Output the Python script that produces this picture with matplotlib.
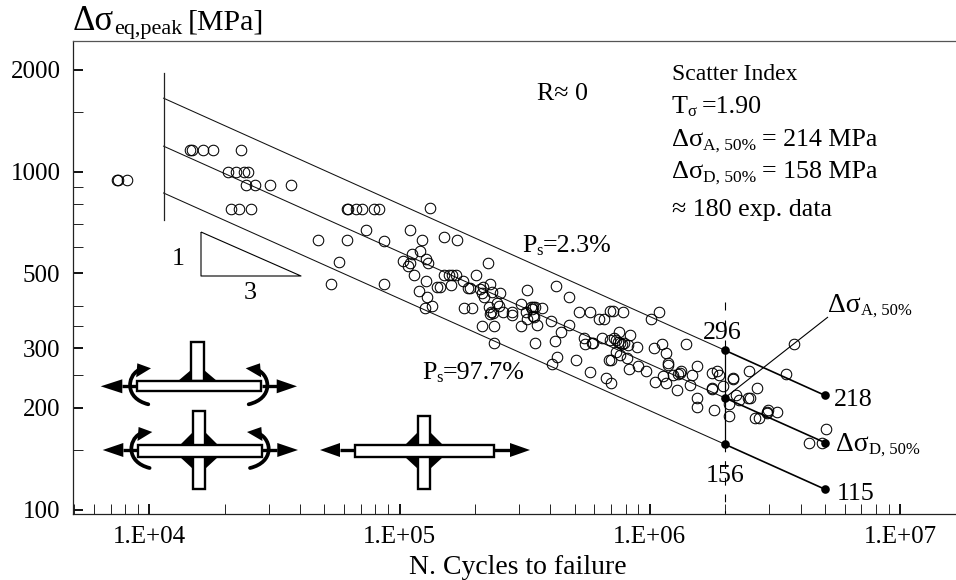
import matplotlib
matplotlib.use("Agg")
import matplotlib.pyplot as plt
from matplotlib.patches import Polygon, Rectangle, PathPatch
from matplotlib.path import Path
from matplotlib.transforms import Affine2D
from matplotlib.ticker import FixedLocator, FixedFormatter, NullFormatter

plt.rcParams['font.family'] = ['Liberation Serif', 'DejaVu Serif']

W, H = 956, 580

log10_cycles = [
 3.871,3.873,3.912,4.163,4.171,4.215,4.254,4.368,4.313,4.348,4.378,4.393,4.386,4.422,4.481,4.565,
 4.326,4.358,4.406,4.789,4.795,4.826,4.849,4.898,4.916,5.121,4.673,4.791,4.939,5.091,5.179,5.229,
 4.865,5.041,4.757,4.726,4.939,5.081,5.051,5.015,5.041,5.032,5.105,5.112,5.058,5.104,5.077,5.111,
 5.101,5.131,5.352,5.177,5.197,5.208,5.225,5.304,5.204,5.148,5.161,5.252,5.361,5.274,5.281,5.321,
 5.333,5.370,5.401,5.328,5.337,5.388,5.397,5.357,5.257,5.288,5.365,5.372,5.361,5.412,5.449,5.449,
 5.484,5.509,5.524,5.534,5.528,5.542,5.570,5.504,5.534,5.538,5.508,5.550,5.484,5.330,5.376,5.376,
 5.542,5.604,5.608,5.626,5.676,5.716,5.759,5.798,5.818,5.840,5.677,5.646,5.622,5.735,5.741,5.767,
 5.774,5.809,5.840,5.628,5.706,5.759,5.837,5.825,5.854,5.891,6.035,6.004,5.878,5.920,5.857,5.863,
 5.871,5.880,5.887,5.896,5.914,5.947,5.863,5.880,5.910,5.845,6.015,6.048,6.064,6.143,6.072,6.072,
 6.187,5.918,5.952,5.986,6.053,6.020,6.064,6.093,6.113,6.124,6.120,6.168,6.161,6.108,5.843,6.187,
 6.187,6.247,6.267,6.277,6.333,6.333,6.395,6.247,6.247,6.291,6.428,6.344,6.356,6.393,6.399,6.316,
 6.256,6.316,6.542,6.577,6.473,6.469,6.469,6.509,6.420,6.437,6.703,6.634,6.687,
]
log10_stress = [
 2.975,2.975,2.975,3.064,3.064,3.064,3.064,3.064,3.000,3.000,3.000,3.000,2.961,2.961,2.961,2.961,
 2.889,2.889,2.889,2.889,2.889,2.889,2.889,2.889,2.889,2.892,2.798,2.798,2.795,2.798,2.806,2.798,
 2.827,2.827,2.734,2.669,2.669,2.765,2.756,2.735,2.731,2.720,2.742,2.730,2.693,2.677,2.647,2.630,
 2.598,2.604,2.730,2.693,2.693,2.695,2.693,2.693,2.665,2.658,2.659,2.677,2.669,2.655,2.656,2.653,
 2.660,2.643,2.640,2.640,2.628,2.611,2.604,2.601,2.597,2.597,2.586,2.581,2.579,2.586,2.586,2.576,
 2.608,2.650,2.601,2.601,2.593,2.599,2.597,2.586,2.573,2.571,2.563,2.546,2.543,2.543,2.543,2.493,
 2.493,2.557,2.430,2.662,2.629,2.586,2.586,2.564,2.564,2.589,2.547,2.525,2.500,2.508,2.490,2.492,
 2.492,2.507,2.502,2.452,2.443,2.407,2.443,2.390,2.589,2.586,2.586,2.564,2.525,2.518,2.507,2.502,
 2.497,2.494,2.490,2.492,2.487,2.481,2.467,2.458,2.450,2.443,2.478,2.489,2.464,2.489,2.433,2.428,
 2.424,2.416,2.424,2.409,2.395,2.378,2.374,2.399,2.401,2.409,2.404,2.399,2.370,2.353,2.374,2.330,
 2.305,2.404,2.410,2.399,2.391,2.388,2.409,2.360,2.358,2.367,2.360,2.338,2.324,2.330,2.330,2.313,
 2.294,2.277,2.401,2.489,2.295,2.288,2.285,2.288,2.272,2.272,2.240,2.196,2.196,
]

line_start_cycles = 11400
knee_cycles = 2e6
end_cycles = 5e6
start_stress = [1650, 1190, 865]
knee_stress = [296, 214, 156]
end_stress = [218, 158, 115]
knee_labels = ['296', '156']

y_major = [100, 200, 300, 500, 1000, 2000]
y_minor = [150, 250, 350, 400, 600, 700, 800, 900, 1500]
x_major = [1e4, 1e5, 1e6, 1e7]
x_labels = ['1.E+04', '1.E+05', '1.E+06', '1.E+07']
x_minor = [m * 10**e for e in (3, 4, 5, 6, 7) for m in (5, 6, 7, 8, 9, 2, 3, 4)
           if 10**3.695 < m * 10**e < 10**7.223 and not (e == 3 and m < 5)]

fig = plt.figure(figsize=(W / 100, H / 100), dpi=100)
ax = fig.add_axes([73 / W, (H - 513.5) / H, 883 / W, 472.5 / H])
ax.set_xscale('log')
ax.set_yscale('log')
ax.set_xlim(10**3.695, 10**7.223)
ax.set_ylim(10**1.9888, 10**3.3867)
ax.spines['right'].set_visible(False)
for s in ('left', 'bottom', 'top'):
    ax.spines[s].set_linewidth(0.9)
    ax.spines[s].set_color('#222222')
ax.spines['top'].set_color('#555555')

ax.xaxis.set_major_locator(FixedLocator(x_major))
ax.xaxis.set_major_formatter(FixedFormatter(x_labels))
ax.xaxis.set_minor_locator(FixedLocator(x_minor))
ax.xaxis.set_minor_formatter(NullFormatter())
ax.yaxis.set_major_locator(FixedLocator(y_major))
ax.yaxis.set_major_formatter(FixedFormatter([str(v) for v in y_major]))
ax.yaxis.set_minor_locator(FixedLocator(y_minor))
ax.yaxis.set_minor_formatter(NullFormatter())
ax.tick_params(which='major', direction='in', length=7.5, width=1.4, labelsize=18, color='#111111')
ax.tick_params(which='minor', direction='in', length=7.5, width=0.7, color='#222222')
ax.tick_params(axis='x', which='major', pad=9)
ax.tick_params(axis='y', which='major', pad=9)

ax.set_xlabel('N. Cycles to failure', fontsize=20, va='baseline')
ax.xaxis.set_label_coords((518 - 73) / 883, -(574 - 513.5) / 472.5)

cycles = [10**v for v in log10_cycles]
stress = [10**v for v in log10_stress]
ax.plot(cycles, stress, ls='none', marker='o', ms=7.6, mfc='none', mec='black', mew=0.75, zorder=3)

for s0, s1, s2 in zip(start_stress, knee_stress, end_stress):
    ax.plot([line_start_cycles, knee_cycles], [s0, s1], color='#111111', lw=0.75, zorder=2)
    ax.plot([knee_cycles, end_cycles], [s1, s2], color='black', lw=1.2, zorder=2)
    ax.plot([knee_cycles, end_cycles], [s1, s2], ls='none', marker='o', ms=6.2, color='black', mew=0, zorder=4)

ax.plot([line_start_cycles] * 2, [720, 1960], color='#222222', lw=0.9, zorder=2)
ax.plot([knee_cycles] * 2, [knee_stress[2], knee_stress[0]], color='black', lw=0.9, zorder=2)
ax.plot([knee_cycles] * 2, [knee_stress[0], 412], color='black', lw=0.8, dashes=(9, 9), zorder=2)
ax.plot([knee_cycles] * 2, [knee_stress[2], 98], color='black', lw=0.8, dashes=(7, 8), zorder=2)

# Everything below is annotation, positioned in image pixels
PX = Affine2D().scale(1, -1).translate(0, H)


def add_line(xs, ys, lw=0.8, color='black'):
    fig.add_artist(plt.Line2D(xs, ys, transform=PX, color=color, lw=lw, solid_capstyle='butt'))


def text(x, y, parts):
    """Chain (string, size, baseline shift, optional gap) pieces left to right from pixel x."""
    r = fig.canvas.get_renderer()
    for s, size, dy, *gap in parts:
        t = fig.text(x / W, 1 - (y + dy) / H, s, fontsize=size, va='baseline', ha='left', color='black')
        x += t.get_window_extent(r).width + (gap[0] if gap else 0)


def tri(*pts, fc='black', ec='none', lw=0, z=5):
    fig.add_artist(Polygon(pts, closed=True, transform=PX, fc=fc, ec=ec, lw=lw, zorder=z))


def rect(x0, y0, x1, y1):
    fig.add_artist(Rectangle((x0, y0), x1 - x0, y1 - y0, transform=PX, fc='white', ec='black', lw=1.7, zorder=6))


def straight_arrow(x_tip, x_base, x_end, y):
    add_line([x_base, x_end], [y, y], lw=2.4)
    tri((x_tip, y), (x_base, y - 7), (x_base, y + 7))


def bend(x_far, x_mid, x_near, x_tip, x_b, y):
    # y is the plate centre line
    verts = [(x_far, y + 18), (x_mid - (x_far - x_mid) * 0.2, y + 12), (x_mid - (x_near - x_mid) * 0.1, y - 10), (x_near, y - 16)]
    fig.add_artist(PathPatch(Path(verts, [Path.MOVETO, Path.CURVE4, Path.CURVE4, Path.CURVE4]),
                             transform=PX, fc='none', ec='black', lw=2.7, capstyle='round'))
    tri((x_tip, y - 18), (x_b, y - 23), (x_b - (x_tip - x_b) * 0.08, y - 9))


def weld(xc_l, xc_r, y_plate, h, w):
    tri((xc_l - w, y_plate), (xc_l, y_plate), (xc_l, y_plate + h))
    tri((xc_r + w, y_plate), (xc_r, y_plate), (xc_r, y_plate + h))


# Top specimen
straight_arrow(100.7, 122.3, 136, 386.3)
straight_arrow(297, 276.7, 262, 386.3)
bend(148.3, 128.3, 138.3, 151, 137.3, 386.3)
bend(248.7, 269.3, 258.3, 245.7, 260, 386.3)
weld(191.3, 204, 381, -11, 13)
rect(191.3, 342.3, 204, 381)
rect(136.7, 381, 261, 391.3)

# Middle-left specimen
straight_arrow(102.7, 123.3, 138, 450)
straight_arrow(298, 277.3, 262, 450)
bend(149.6, 129.6, 139.6, 152.3, 138.6, 450)
bend(250, 270.6, 259.6, 247, 261.3, 450)
weld(192.7, 205.3, 444.7, -12.5, 13)
weld(192.7, 205.3, 456.7, 12.5, 13)
rect(192.7, 411.3, 205.3, 488.7)
rect(138.3, 444.7, 262, 456.7)

# Right specimen
straight_arrow(320, 340, 356, 450)
straight_arrow(530, 510, 494, 450)
weld(417.5, 430, 444.5, -12.5, 13)
weld(417.5, 430, 456.5, 12.5, 13)
rect(417.5, 416, 430, 489)
rect(355, 444.5, 494, 456.5)

# Slope triangle and leader
add_line([201, 201, 301, 201], [232, 276, 276, 232], lw=0.8)
add_line([726, 828], [397, 317], lw=0.8)

# Text
BIG = 18.7
text(73, 30, [('Δσ', 25, 0), ('eq,peak', 16, 4, 5), ('[MPa]', 21.5, 0)])
text(672, 80, [('Scatter Index', 17, 0)])
text(672, 113, [('T', BIG, 0), ('σ', 12, 3, 5), ('=1.90', BIG, 0)])
text(672, 146, [('Δσ', 19, 0), ('A, 50%', 12.5, 4, 6), ('= 214 MPa', BIG, 0)])
text(672, 178, [('Δσ', 19, 0), ('D, 50%', 12.5, 4, 6), ('= 158 MPa', BIG, 0)])
text(672, 216, [('≈ 180 exp. data', BIG, 0)])
text(537, 100, [('R≈ 0', BIG, 0)])
text(522, 252, [('P', BIG, 0), ('s', 12, 3), ('=2.3%', BIG, 0)])
text(422, 379, [('P', BIG, 0), ('s', 12, 3), ('=97.7%', BIG, 0)])
text(172, 265, [('1', BIG, 0)])
text(244, 299, [('3', BIG, 0)])
text(703, 339, [(knee_labels[0], BIG, 0)])
text(706, 482, [(knee_labels[1], BIG, 0)])
text(834, 406, [(str(end_stress[0]), BIG, 0)])
text(837, 500, [(str(end_stress[2]), BIG, 0)])
text(828, 312, [('Δσ', 20, 0), ('A, 50%', 12, 3)])
text(836, 451, [('Δσ', 20, 0), ('D, 50%', 12, 3)])

fig.savefig('out.png', dpi=100)
